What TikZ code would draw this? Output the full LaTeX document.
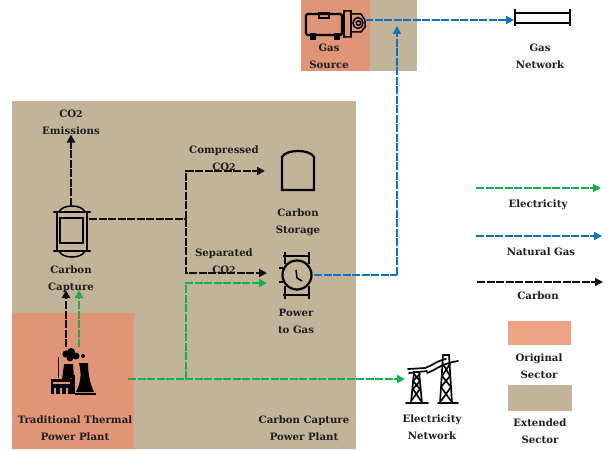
\documentclass[tikz,border=0pt]{standalone}
\usepackage{fontspec}
\setmainfont{DejaVu Serif}
\usetikzlibrary{arrows.meta}
\definecolor{tan}{HTML}{C2B499}
\definecolor{orig}{HTML}{E09577}
\definecolor{origl}{HTML}{EDA384}
\definecolor{elec}{HTML}{12B14F}
\definecolor{gasb}{HTML}{0D72C4}
\definecolor{carb}{HTML}{111111}
\definecolor{ink}{HTML}{1E1E1E}
\newcommand{\cotwo}{CO\raisebox{-0.12ex}{\fontsize{9.4}{9.4}\selectfont 2}}
\tikzset{
 x=1bp,y=-1bp,
 lab/.style={font=\fontsize{10.2}{17}\selectfont\bfseries,text=ink,align=center,inner sep=0pt},
 flow/.style={line width=1.9pt,dash pattern=on 8bp off 1.5bp,-{Triangle[length=8bp,width=8bp]}},
 flowp/.style={line width=1.9pt,dash pattern=on 8bp off 1.5bp},
 ic/.style={draw=none,inner sep=0pt,outer sep=0pt,minimum width=#1},
 ln/.style={line width=1.5pt,draw=black},
 lt/.style={line width=2.2pt,draw=black},
}
\begin{document}
\begin{tikzpicture}
\useasboundingbox (0,0) rectangle (613,451);
% sector blocks
\fill[tan] (12,101) rectangle (356,449);
\fill[orig] (12,313) rectangle (134,449);
\fill[orig] (301,0) rectangle (370,71);
\fill[tan] (370,0) rectangle (417,71);
\fill[origl] (508,321) rectangle (571,345);
\fill[tan] (508,385) rectangle (572,411);

% anchor nodes for the icons
\node[ic=36bp,minimum height=50bp] (capture) at (71,231) {};
\node[ic=34bp,minimum height=40bp] (storage) at (298,171) {};
\node[ic=34bp,minimum height=30bp] (p2g) at (297,275) {};
\node[ic=56bp,minimum height=16bp] (gasnet) at (542,20) {};
\node[ic=64bp,minimum height=30bp] (source) at (333,20) {};
\node[ic=46bp,minimum height=50bp] (elnet) at (428,379) {};
\node[ic=40bp,minimum height=66bp] (plant) at (72,380) {};
\coordinate (split) at (186,219);
\coordinate (tap) at (186,379);
\coordinate (riser) at (397,275);
\coordinate (riserTop) at (397,26);
\coordinate (toStore) at (265,171);
\coordinate (toP2gC) at (267,273);
\coordinate (toP2gE) at (267,283);
\coordinate (plantC) at (66,347);
\coordinate (plantE) at (79,347);
\coordinate (plantCt) at (66,290);
\coordinate (plantEt) at (79,290);
\coordinate (plantR) at (128,379);

% labels
\node[lab] (emis) at (71,122) {\cotwo\\Emissions};
\node[lab] (capt) at (71,279) {Carbon\\Capture};
\node[lab] (comp) at (224,158) {Compressed\\\cotwo};
\node[lab] (stl) at (298,222) {Carbon\\Storage};
\node[lab] (sep) at (224,261) {Separated\\\cotwo};
\node[lab] (ptl) at (296,321) {Power\\to Gas};
\node[lab] (ttp) at (75,428) {Traditional Thermal\\Power Plant};
\node[lab] (ccp) at (304,428) {Carbon Capture\\Power Plant};
\node[lab] (enl) at (432,427) {Electricity\\Network};
\node[lab] (gsl) at (329,56) {Gas\\Source};
\node[lab] (gnl) at (540,56) {Gas\\Network};
\node[lab] (l1) at (538,205) {Electricity};
\node[lab] (l2) at (541,252) {Natural Gas};
\node[lab] (l3) at (538,296) {Carbon};
\node[lab] (l4) at (539,366) {Original\\Sector};
\node[lab] (l5) at (540,431) {Extended\\Sector};

% carbon capture vessel
\draw[lt] (57,212) rectangle (87,251);
\draw[ln] (60,218) rectangle (83,243);
\draw[lt,line cap=round] (54,212) -- (90,212);
\draw[lt,line cap=round] (54,251) -- (90,251);
\draw[ln] (59,212) .. controls (62,204) and (82,204) .. (85,212);
\draw[ln] (59,251) .. controls (62,259) and (82,259) .. (85,251);

% carbon storage
\draw[lt] (282,190) -- (282,157) .. controls (286,149) and (310,149) .. (314,157) -- (314,190) -- cycle;
\draw[ln,tan] (284.5,186.5) -- (311.5,186.5);

% power to gas
\draw[lt] (297,275) circle (14.5bp);
\draw[lt] (283,256) -- (310,256);
\draw[lt] (283,295) -- (310,295);
\draw[lt] (285,252) -- (285,264);
\draw[lt] (309,252) -- (309,264);
\draw[lt] (285,286) -- (285,299);
\draw[lt] (309,286) -- (309,299);
\draw[lt] (283,268) -- (279,268);
\draw[lt] (283,282) -- (279,282);
\draw[ln] (296,270) -- (297,278) -- (302,281);

% gas source
\draw[lt,rounded corners=1.5bp] (306,14) rectangle (342,35);
\draw[ln] (319,13) rectangle (329,18);
\fill (310,33) rectangle (316,40);
\fill (334,33) rectangle (340,40);
\draw[lt] (344,10) -- (344,38);
\draw[ln] (344,11) -- (351,11) -- (351,14) -- (361,14) -- (365,20) -- (365,27) -- (361,32) -- (351,32) -- (351,37) -- (344,37);
\draw[lt] (351,12) -- (351,36);
\draw[ln] (358,23) ellipse (5bp and 5.5bp);
\draw[ln] (358.5,23) circle (2.2bp);

% gas network
\draw[lt,line width=2.6pt] (515,9) -- (515,26);
\draw[lt,line width=2.6pt] (570,9) -- (570,26);
\draw[ln] (515,13) rectangle (570,23);

% electricity network towers
\begin{scope}[line width=1.7pt,line cap=round]
\draw (406,403) -- (428,403);
\draw (438,403) -- (458,403);
\draw (411,403) -- (414,372) -- (419,372) -- (422,403);
\draw (411,401) -- (420,389) -- (413,381) -- (420,374);
\draw (421,401) -- (413,389) -- (420,381) -- (414,374);
\draw (440,403) -- (443,355) -- (449,355) -- (452,403);
\draw (441,401) -- (451,387) -- (442,376) -- (450,364);
\draw (451,401) -- (441,387) -- (450,376) -- (443,364);
\draw (409,373) -- (427,371);
\draw (408,369) -- (425,368);
\draw (425,368) .. controls (432,366) and (436,361) .. (446,359);
\draw (427,373) .. controls (436,370) and (440,364) .. (458,361);
\end{scope}

% power plant
\begin{scope}[black]
\fill (66,354) circle (3.6bp);
\fill (71,352) circle (4bp);
\fill (76,356) circle (3.5bp);
\fill (70,358) circle (3.4bp);
\fill (83,356) circle (2bp);
\fill (64,364) -- (73,364) -- (74,378) -- (62,380) -- cycle;
\fill (76,392) .. controls (82,380) and (81,372) .. (79,363) -- (88,363) .. controls (88,374) and (90,384) .. (94,392) -- cycle;
\fill (75,392.5) rectangle (96,394.5);
\draw[line width=1pt,black] (58,357) -- (58,378);
\fill (51,379) rectangle (72,394);
\fill[orig] (53,382) rectangle (70,384);
\fill[orig] (54,388) rectangle (56,394);
\fill[orig] (60,388) rectangle (62,394);
\fill[orig] (66,388) rectangle (68,394);
\fill (72,375) rectangle (75,394);
\end{scope}

% carbon flows
\draw[flow,carb] (capture.north) -- (capture.north |- emis.south);
\draw[flowp,carb] (capture.east |- split) -- (split);
\draw[flow,carb] (split) |- (toStore);
\draw[flow,carb] (split) |- (toP2gC);
\draw[flow,carb] (plantC) -- (plantCt);
% electricity flows
\draw[flow,elec] (plantE) -- (plantEt);
\draw[flow,elec] (plantR) -- (elnet.west);
\draw[flow,elec] (tap) |- (toP2gE);
% gas flows
\draw[flowp,gasb] (p2g.east) -- (riser);
\draw[flow,gasb] (riser) -- (riserTop);
\draw[flow,gasb] (source.east) -- (gasnet.west);

% legend arrows
\coordinate (a1) at (476,188); \coordinate (b1) at (601,188);
\coordinate (a2) at (476,236); \coordinate (b2) at (602,236);
\coordinate (a3) at (477,282); \coordinate (b3) at (603,282);
\draw[flow,elec,line width=1.5pt] (a1) -- (b1);
\draw[flow,gasb,line width=1.5pt] (a2) -- (b2);
\draw[flow,carb,line width=1.5pt] (a3) -- (b3);
\end{tikzpicture}
\end{document}
